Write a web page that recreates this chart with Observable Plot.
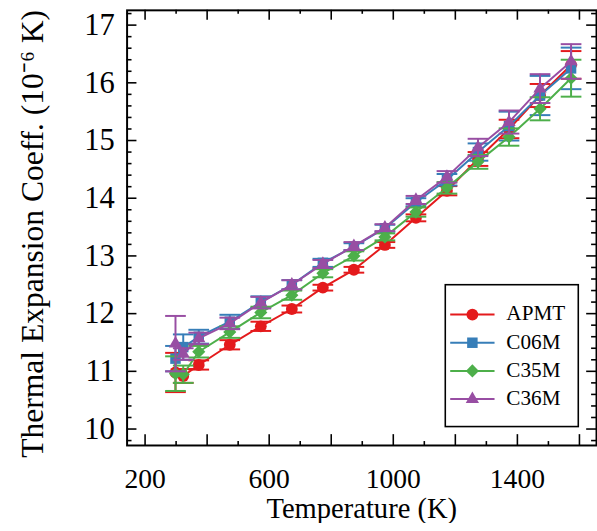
<!DOCTYPE html>
<html><head><meta charset="utf-8">
<script src="https://cdn.jsdelivr.net/npm/d3@7"></script>
<script src="https://cdn.jsdelivr.net/npm/@observablehq/plot@0.6"></script>
<style>
html,body{margin:0;padding:0;overflow:hidden;background:#fff;}
#chart{width:597px;height:531px;overflow:hidden;}
</style>
</head><body><div id="chart"></div>
<script>
// Data
const temperatures = [298, 323, 373, 473, 573, 673, 773, 873, 973, 1073, 1173, 1273, 1373, 1473, 1573];
const seriesNames = ["APMT", "C06M", "C35M", "C36M"];
const seriesColors = ["#e41a1c", "#377eb8", "#4daf4a", "#984ea3"];
const seriesSymbols = ["circle", "square", "diamond2", "triangle"];

const APMT     = [10.98, 10.92, 11.11, 11.46, 11.78, 12.08, 12.45, 12.76, 13.19, 13.66, 14.13, 14.68, 15.20, 15.78, 16.31];
const APMT_err = [0.34, 0.12, 0.08, 0.08, 0.08, 0.06, 0.05, 0.05, 0.05, 0.06, 0.08, 0.12, 0.16, 0.20, 0.24];
const C06M     = [11.22, 11.42, 11.60, 11.86, 12.20, 12.50, 12.88, 13.16, 13.48, 13.93, 14.32, 14.80, 15.25, 15.78, 16.25];
const C06M_err = [0.22, 0.22, 0.12, 0.12, 0.10, 0.08, 0.07, 0.06, 0.06, 0.07, 0.10, 0.15, 0.25, 0.34, 0.36];
const C35M     = [10.96, 10.95, 11.34, 11.68, 12.02, 12.32, 12.70, 13.00, 13.33, 13.76, 14.18, 14.63, 15.06, 15.55, 16.08];
const C35M_err = [0.30, 0.15, 0.10, 0.10, 0.10, 0.08, 0.07, 0.08, 0.06, 0.08, 0.10, 0.12, 0.15, 0.20, 0.32];
const C36M     = [11.48, 11.30, 11.57, 11.83, 12.19, 12.50, 12.86, 13.17, 13.49, 13.97, 14.37, 14.88, 15.32, 15.90, 16.37];
const C36M_err = [0.48, 0.10, 0.10, 0.10, 0.10, 0.08, 0.07, 0.07, 0.06, 0.07, 0.10, 0.15, 0.20, 0.25, 0.30];

const xTickLabels = [200, 600, 1000, 1400];
const xMajorTicks = [200, 400, 600, 800, 1000, 1200, 1400, 1600];
const xMinorTicks = [300, 500, 700, 900, 1100, 1300, 1500];
const yTickLabels = [10, 11, 12, 13, 14, 15, 16, 17];
const yMinorTicks = d3.range(9.8, 17.25, 0.2).map(v => +v.toFixed(1)).filter(v => Math.abs(v - Math.round(v)) > 0.01);

const xLabel = "Temperature (K)";
const yLabel = "Thermal Expansion Coeff. (10⁻⁶ K)";

const values = [APMT, C06M, C35M, C36M];
const errors = [APMT_err, C06M_err, C35M_err, C36M_err];

const W = 606, H = 531, mL = 128.5, mR = 1, mT = 10, mB = 79.3;
const plotW = W - mL - mR, plotH = H - mT - mB;

const capSymbol = { draw(ctx) { ctx.moveTo(-10.5, 0); ctx.lineTo(10.5, 0); } };

const marks = [];
seriesNames.forEach((name, i) => {
  const rows = temperatures.map((T, j) => ({T, v: values[i][j], e: errors[i][j], s: name}));
  const c = seriesColors[i];
  marks.push(Plot.ruleX(rows, {x: "T", y1: d => d.v - d.e, y2: d => d.v + d.e, stroke: c, strokeWidth: 2}));
  marks.push(Plot.dot(rows, {x: "T", y: d => d.v - d.e, symbol: capSymbol, stroke: c, fill: "none", strokeWidth: 2}));
  marks.push(Plot.dot(rows, {x: "T", y: d => d.v + d.e, symbol: capSymbol, stroke: c, fill: "none", strokeWidth: 2}));
  marks.push(Plot.line(rows, {x: "T", y: "v", stroke: c, strokeWidth: 2}));
  marks.push(Plot.dot(rows, {x: "T", y: "v", symbol: seriesSymbols[i], fill: c, stroke: "none", r: seriesSymbols[i] === "triangle" ? 5 : 6}));
});

const tickStyle = {stroke: "black", strokeWidth: 1.6};
const svg = Plot.plot({
  width: W, height: H,
  marginLeft: mL, marginRight: mR, marginTop: mT, marginBottom: mB,
  style: {fontFamily: "'Liberation Serif', 'Times New Roman', serif", background: "white", color: "black"},
  x: {domain: [142, 1655], axis: null},
  y: {domain: [9.715, 17.256], axis: null},
  marks: [
    ...marks,
    // inward ticks on all four sides
    Plot.tickY(yTickLabels, {y: d => d, insetRight: plotW - 10, ...tickStyle}),
    Plot.tickY(yMinorTicks, {y: d => d, insetRight: plotW - 5, ...tickStyle}),
    Plot.tickY(yTickLabels, {y: d => d, insetLeft: plotW - 10, ...tickStyle}),
    Plot.tickY(yMinorTicks, {y: d => d, insetLeft: plotW - 5, ...tickStyle}),
    Plot.tickX(xMajorTicks, {x: d => d, insetTop: plotH - 11, ...tickStyle}),
    Plot.tickX(xMinorTicks, {x: d => d, insetTop: plotH - 4, ...tickStyle}),
    Plot.tickX(xMajorTicks, {x: d => d, insetBottom: plotH - 10, ...tickStyle}),
    Plot.tickX(xMinorTicks, {x: d => d, insetBottom: plotH - 4, ...tickStyle}),
    Plot.frame({stroke: "black", strokeWidth: 2}),
    // tick labels
    Plot.text(xTickLabels, {x: d => d, text: d => String(d), frameAnchor: "bottom", dy: 34.6, lineAnchor: "middle", fontSize: 28, fill: "black"}),
    Plot.text(yTickLabels, {y: d => d, text: d => String(d), frameAnchor: "left", textAnchor: "end", dx: -12.5, lineAnchor: "middle", fontSize: 31, fill: "black"}),
    // axis titles
    Plot.text([xLabel], {text: d => d, frameAnchor: "bottom", dy: 64, textAnchor: "middle", lineAnchor: "middle", fontSize: 29, fill: "black"}),
    Plot.text([yLabel], {text: d => d, frameAnchor: "left", dx: -96, dy: 6, rotate: -90, textAnchor: "middle", lineAnchor: "middle", fontSize: 32, fill: "black"})
  ]
});

// Legend inside the plot area
const g = d3.select(svg).append("g")
  .attr("font-family", "'Liberation Serif', 'Times New Roman', serif")
  .attr("text-anchor", "start");
g.append("rect").attr("x", 452).attr("y", 289).attr("width", 135).attr("height", 144)
  .attr("fill", "white").attr("stroke", "black").attr("stroke-width", 1.6);
const symMap = {circle: d3.symbolCircle, square: d3.symbolSquare, diamond2: d3.symbolDiamond2, triangle: d3.symbolTriangle};
seriesNames.forEach((name, i) => {
  const y = 319.3 + i * 28.6;
  g.append("line").attr("x1", 457).attr("x2", 502).attr("y1", y).attr("y2", y)
    .attr("stroke", seriesColors[i]).attr("stroke-width", 2);
  const r = seriesSymbols[i] === "triangle" ? 5 : 6;
  g.append("path").attr("d", d3.symbol(symMap[seriesSymbols[i]], Math.PI * r * r)())
    .attr("transform", `translate(479.5,${y})`).attr("fill", seriesColors[i]);
  g.append("text").attr("x", 514).attr("y", y + 6).attr("font-size", 21.5)
    .attr("text-anchor", "start").attr("fill", "black").text(name);
});

document.getElementById("chart").appendChild(svg);
</script>
</body></html>
